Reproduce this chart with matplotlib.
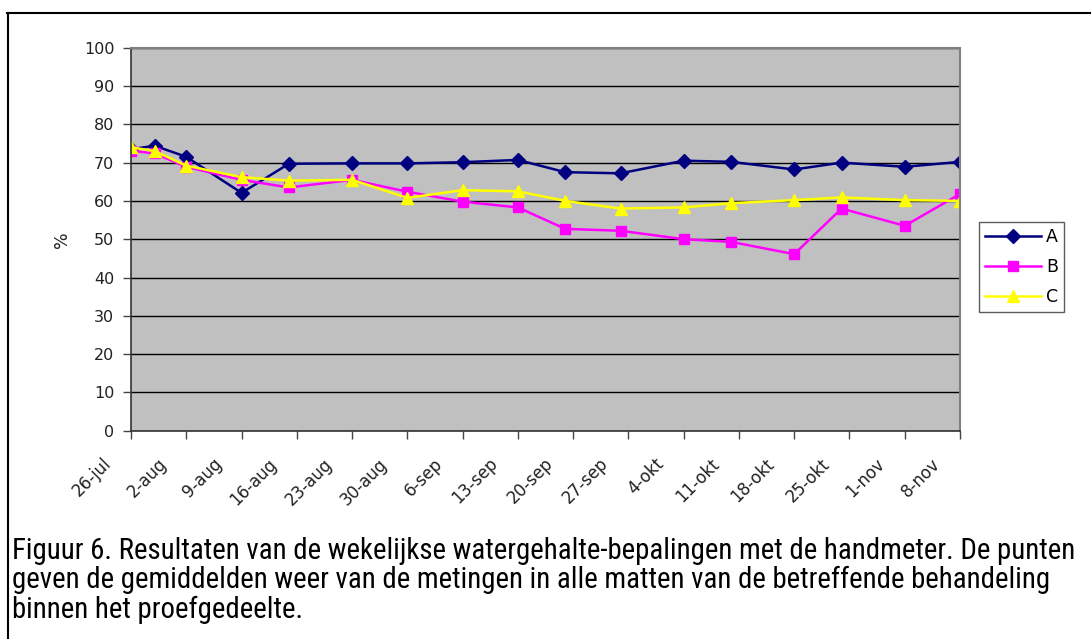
import matplotlib
matplotlib.use("Agg")
import matplotlib.pyplot as plt
import matplotlib.transforms as mtransforms
from matplotlib.lines import Line2D
from matplotlib import font_manager
import pandas as pd

# ---- data ----
dates = ["2004-07-26", "2004-07-29", "2004-08-02", "2004-08-09", "2004-08-15",
         "2004-08-23", "2004-08-30", "2004-09-06", "2004-09-13", "2004-09-19",
         "2004-09-26", "2004-10-04", "2004-10-10", "2004-10-18", "2004-10-24",
         "2004-11-01", "2004-11-08"]
series_a = [73.5, 74.4, 71.5, 62.1, 69.7, 69.8, 69.8, 70.1, 70.7, 67.5, 67.2,
            70.5, 70.2, 68.2, 70.0, 68.9, 70.2]
series_b = [73.1, 72.4, 68.9, 65.5, 63.5, 65.5, 62.4, 59.8, 58.3, 52.7, 52.2,
            50.0, 49.3, 46.1, 58.0, 53.5, 61.8]
series_c = [74.0, 73.0, 69.2, 66.2, 65.3, 65.5, 60.8, 62.8, 62.5, 60.0, 58.0,
            58.3, 59.4, 60.2, 60.9, 60.2, 60.0]
tick_dates = ["2004-07-26", "2004-08-02", "2004-08-09", "2004-08-16", "2004-08-23",
              "2004-08-30", "2004-09-06", "2004-09-13", "2004-09-20", "2004-09-27",
              "2004-10-04", "2004-10-11", "2004-10-18", "2004-10-25", "2004-11-01",
              "2004-11-08"]
tick_labels = ["26-jul", "2-aug", "9-aug", "16-aug", "23-aug", "30-aug", "6-sep",
               "13-sep", "20-sep", "27-sep", "4-okt", "11-okt", "18-okt", "25-okt",
               "1-nov", "8-nov"]
y_ticks = [0, 10, 20, 30, 40, 50, 60, 70, 80, 90, 100]
names = ["A", "B", "C"]
caption = ("Figuur 6. Resultaten van de wekelijkse watergehalte-bepalingen met de handmeter. De punten\n"
           "geven de gemiddelden weer van de metingen in alle matten van de betreffende behandeling\n"
           "binnen het proefgedeelte.")

available = {f.name for f in font_manager.fontManager.ttflist}
condensed = None
for cand in ["Liberation Sans Narrow", "DejaVu Sans Condensed", "Roboto Condensed",
             "Open Sans Condensed"]:
    if cand in available:
        condensed = cand
        break

x = pd.to_datetime(dates)
xt = pd.to_datetime(tick_dates)

W, H = 1091, 639
fig = plt.figure(figsize=(W / 100, H / 100), dpi=100)
fig.patch.set_facecolor("white")

ax = fig.add_axes([131 / W, 1 - 430.7 / H, (960 - 131) / W, (430.7 - 47.7) / H])
ax.set_facecolor("#C0C0C0")
ax.set_xlim(xt[0], xt[-1])
ax.set_ylim(0, 100)
ax.set_yticks(y_ticks)
ax.set_yticklabels([str(v) for v in y_ticks], fontsize=11.5, color="#222222",
                   family="DejaVu Sans")
ax.set_xticks(xt)
ax.set_xticklabels([])
# rotated date labels, placed like Excel (ending left of and below each tick)
lbl_trans = ax.get_xaxis_transform() + mtransforms.ScaledTranslation(
    -29 / 100, -24 / 100, fig.dpi_scale_trans)
for d, t in zip(xt, tick_labels):
    ax.text(d, 0, t, transform=lbl_trans, rotation=45, ha="right", va="top",
            rotation_mode="anchor", fontsize=12, color="#222222", clip_on=False)
ax.grid(axis="y", color="black", linewidth=1.0)
ax.set_axisbelow(True)
ax.tick_params(axis="both", direction="out", length=6, width=1, color="#444444")
ax.tick_params(axis="y", pad=6)
for s in ["top", "right"]:
    ax.spines[s].set_color("#808080")
    ax.spines[s].set_linewidth(1.5)
for s in ["left", "bottom"]:
    ax.spines[s].set_color("#333333")
    ax.spines[s].set_linewidth(1.2)

colors = ["#000080", "#FF00FF", "#FFFF00"]
markers = ["D", "s", "^"]
msizes = [7, 7, 8.5]
for vals, c, m, ms in zip([series_a, series_b, series_c], colors, markers, msizes):
    ax.plot(x, vals, color=c, marker=m, markersize=ms, markeredgecolor=c,
            markerfacecolor=c, linewidth=1.8)

ax.set_ylabel("%", fontsize=12.5, color="#222222", labelpad=9)

handles = [Line2D([0], [0], color=c, marker=m, markersize=ms, markeredgecolor=c,
                  markerfacecolor=c, linewidth=1.8)
           for c, m, ms in zip(colors, markers, msizes)]
leg = fig.legend(handles, names, loc="upper left",
                 bbox_to_anchor=(979 / W, 1 - 222 / H), frameon=True,
                 fontsize=12.5, handlelength=3.2, handletextpad=0.3,
                 borderpad=0.35, labelspacing=0.68, borderaxespad=0,
                 fancybox=False)
leg.get_frame().set_edgecolor("#333333")
leg.get_frame().set_linewidth(1.0)

if condensed:
    cap_family = [condensed, "DejaVu Sans"]
    cap_size = 20.75
else:
    cap_family = ["DejaVu Sans"]
    cap_size = 15.8
fig.text(12 / W, 1 - 537 / H, caption, ha="left", va="top", fontsize=cap_size,
         family=cap_family, linespacing=1.05, color="black")

# outer frame lines (top and left)
fig.add_artist(Line2D([7 / W, 1], [1 - 12.5 / H, 1 - 12.5 / H], color="black",
                      linewidth=1.5, transform=fig.transFigure))
fig.add_artist(Line2D([7.5 / W, 7.5 / W], [0, 1 - 12.5 / H], color="black",
                      linewidth=1.5, transform=fig.transFigure))

fig.savefig("out.png", dpi=100, facecolor="white")
